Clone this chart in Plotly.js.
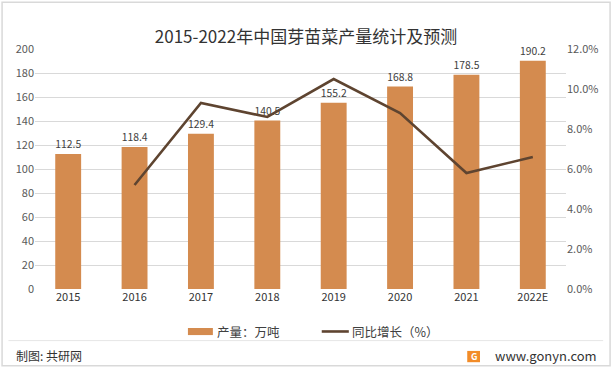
<!DOCTYPE html>
<html>
<head>
<meta charset="utf-8">
<script src="https://cdn.plot.ly/plotly-3.0.1.min.js"></script>
<style>
html,body{margin:0;padding:0;background:#fff;}
#chart{width:612px;height:369px;}
</style>
</head>
<body>
<div id="chart"></div>
<script>
var years = ["2015","2016","2017","2018","2019","2020","2021","2022E"];
var output = [112.5,118.4,129.4,140.5,155.2,168.8,178.5,190.2];
var growthYears = ["2016","2017","2018","2019","2020","2021","2022E"];
var growth = [5.2,9.3,8.6,10.5,8.8,5.8,6.6];
var seriesNames = ["产量：万吨", "同比增长（%）"];

var font = "'Noto Sans CJK SC', 'Noto Sans', sans-serif";
var barColor = "#D48B4F";
var lineColor = "#5E4430";

var traces = [
  {
    type: "bar", x: years, y: output, name: seriesNames[0],
    marker: {color: barColor}, width: 0.39,
    text: output.map(function(v){return v.toFixed(1);}),
    textposition: "outside", cliponaxis: false,
    textfont: {size: 11, color: "#404040", family: font},
    hoverinfo: "x+y"
  },
  {
    type: "scatter", mode: "lines", x: growthYears, y: growth, yaxis: "y2",
    name: seriesNames[1],
    line: {color: lineColor, width: 2.6}
  }
];

var layout = {
  width: 612, height: 369,
  margin: {l: 35, r: 46, t: 49, b: 80},
  paper_bgcolor: "#fff", plot_bgcolor: "#fff",
  font: {family: font, size: 11, color: "#595959"},
  title: {text: "2015-2022年中国芽苗菜产量统计及预测", x: 0.5, xanchor: "center", y: 0.9, yref: "container", yanchor: "middle",
          font: {size: 17, color: "#333333", family: font}},
  xaxis: {type: "category", showgrid: false, zeroline: false, showline: false, ticks: "",
          tickfont: {size: 11, color: "#333333"}},
  yaxis: {range: [0, 200], dtick: 20, showgrid: true, gridcolor: "#D9D9D9", gridwidth: 1,
          zeroline: false, showline: false, ticks: "", tickfont: {size: 11, color: "#595959"}},
  yaxis2: {range: [0, 12], dtick: 2, overlaying: "y", side: "right", showgrid: false,
           zeroline: false, showline: false, ticksuffix: "%", tickformat: ".1f",
           tickfont: {size: 11, color: "#595959"}},
  showlegend: false,
  shapes: [
    {type: "rect", xref: "paper", yref: "paper", x0: -0.062, x1: 1.083, y0: 1.195, y1: -0.32,
     line: {color: "#D9D9D9", width: 1.5}, fillcolor: "rgba(0,0,0,0)"},
    {type: "line", xref: "paper", yref: "paper", x0: -0.05, x1: 1.07, y0: -0.215, y1: -0.215,
     line: {color: "#E6E6E6", width: 1}},
    // legend keys
    {type: "rect", xref: "paper", yref: "paper", x0: 0.288, x1: 0.335, y0: -0.1625, y1: -0.192,
     fillcolor: barColor, line: {width: 0}},
    {type: "line", xref: "paper", yref: "paper", x0: 0.540, x1: 0.591, y0: -0.177, y1: -0.177,
     line: {color: lineColor, width: 2.6}},
    // logo
    {type: "rect", xref: "paper", yref: "paper", x0: 0.814, x1: 0.838, y0: -0.258, y1: -0.305,
     fillcolor: "#F28C28", line: {width: 0}}
  ],
  annotations: [
    {text: seriesNames[0], xref: "paper", yref: "paper", x: 0.339, y: -0.177, xanchor: "left", yanchor: "middle",
     showarrow: false, font: {size: 12.5, color: "#404040"}},
    {text: seriesNames[1], xref: "paper", yref: "paper", x: 0.593, y: -0.177, xanchor: "left", yanchor: "middle",
     showarrow: false, font: {size: 12.5, color: "#404040"}},
    {text: "制图: 共研网", xref: "paper", yref: "paper", x: -0.04, y: -0.275, xanchor: "left", yanchor: "middle",
     showarrow: false, font: {size: 12, color: "#333333"}},
    {text: "<b>G</b>", xref: "paper", yref: "paper", x: 0.826, y: -0.281, xanchor: "center", yanchor: "middle",
     showarrow: false, font: {size: 9, color: "#ffffff"}},
    {text: "www.gonyn.com", xref: "paper", yref: "paper", x: 1.063, y: -0.275, xanchor: "right", yanchor: "middle",
     showarrow: false, font: {size: 13, color: "#333333"}}
  ]
};

Plotly.newPlot("chart", traces, layout, {displayModeBar: false, staticPlot: true});
</script>
</body>
</html>
